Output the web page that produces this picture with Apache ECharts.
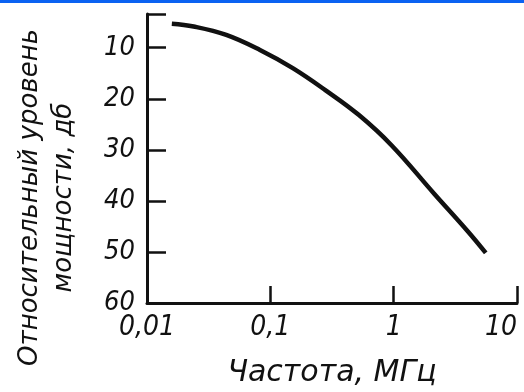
<!DOCTYPE html>
<html>
<head>
<meta charset="utf-8">
<script src="https://cdn.jsdelivr.net/npm/echarts@6/dist/echarts.min.js"></script>
<style>
html, body { margin: 0; padding: 0; background: #fff; }
#chart { width: 524px; height: 392px; }
</style>
</head>
<body>
<div id="chart"></div>
<script>
// частота, МГц  и  относительный уровень, дб
var freq = [0.0159, 0.0239, 0.0439, 0.0824, 0.152, 0.279, 0.523, 0.964, 2.13, 4.0, 5.58];
var level = [5.3, 5.85, 7.5, 10.45, 14.0, 18.3, 23.2, 29.15, 38.6, 46.0, 50.2];
var yTicks = [10, 20, 30, 40, 50, 60];
var yTopEdge = 3.4;
var xTicks = [0.01, 0.1, 1, 10];
var xTickLabels = ['0,01', '0,1', '1', '10'];

var ink = '#111';
var digitFont = "'Liberation Sans Narrow', 'DejaVu Sans Condensed', 'Liberation Sans', sans-serif";
var textFont = "'DejaVu Sans', sans-serif";

var points = [];
for (var i = 0; i < freq.length; i++) {
    points.push([freq[i], level[i]]);
}

var myChart = echarts.init(document.getElementById('chart'));
var option = {
    backgroundColor: '#fff',
    animation: false,
    graphic: [
        {type: 'rect', left: 0, top: 0, shape: {width: 524, height: 3}, style: {fill: '#0a62f2'}}
    ],
    grid: {left: 147, right: 7, top: 14, bottom: 89, containLabel: false, outerBoundsMode: 'none'},
    xAxis: {
        type: 'log',
        logBase: 10,
        min: 0.01,
        max: 10,
        name: 'Частота, МГц',
        nameLocation: 'middle',
        nameGap: 55,
        nameTextStyle: {fontFamily: textFont, fontStyle: 'italic', fontSize: 30, color: ink},
        axisLine: {onZero: false, lineStyle: {color: ink, width: 3}},
        axisTick: {inside: true, length: 17, customValues: [0.1, 1, 10], lineStyle: {color: ink, width: 2.5}},
        axisLabel: {
            customValues: xTicks,
            margin: 11,
            alignMaxLabel: 'right',
            fontFamily: digitFont,
            fontStyle: 'italic',
            fontSize: 28,
            color: ink,
            formatter: function (v) {
                var k = Math.round(Math.log(v) / Math.LN10) + 2;
                return xTickLabels[k];
            }
        },
        splitLine: {show: false}
    },
    yAxis: {
        type: 'value',
        inverse: true,
        min: yTopEdge,
        max: 60,
        name: 'Относительный уровень\nмощности, дб',
        nameLocation: 'middle',
        nameRotate: 90,
        nameGap: 66,
        nameTextStyle: {
            fontFamily: textFont, fontStyle: 'italic', fontSize: 26, color: ink,
            lineHeight: 34, padding: [0, 78, 0, 0]
        },
        axisLine: {onZero: false, lineStyle: {color: ink, width: 3}},
        axisTick: {inside: true, length: 19, customValues: [yTopEdge, 10, 20, 30, 40, 50], lineStyle: {color: ink, width: 2.5}},
        axisLabel: {
            customValues: yTicks,
            margin: 12,
            fontFamily: digitFont,
            fontStyle: 'italic',
            fontSize: 27,
            color: ink
        },
        splitLine: {show: false}
    },
    series: [
        {
            type: 'line',
            data: points,
            smooth: 0.4,
            showSymbol: false,
            lineStyle: {color: ink, width: 4.5}
        }
    ]
};
myChart.setOption(option);
</script>
</body>
</html>
